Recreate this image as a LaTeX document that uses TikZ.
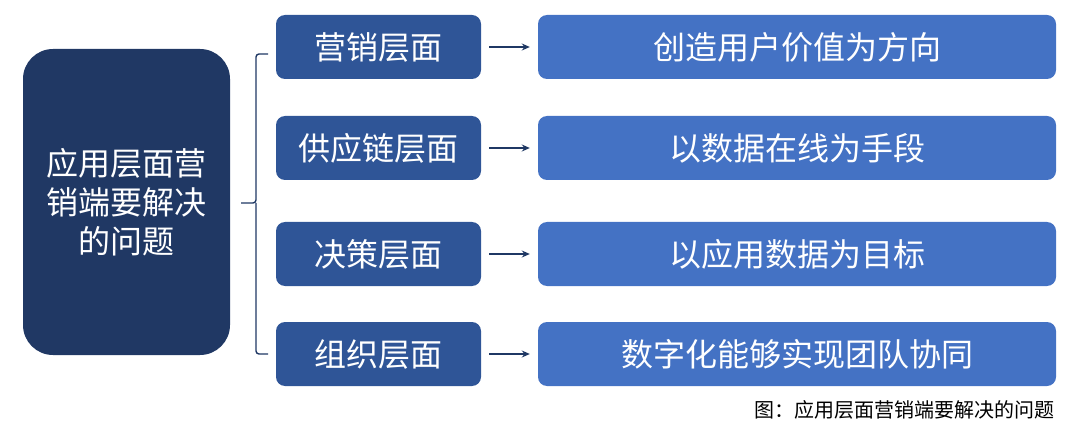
\documentclass[tikz,border=0pt]{standalone}
\usepackage{fontspec}
\setmainfont{Noto Sans CJK SC}
\usetikzlibrary{arrows.meta}
\definecolor{leftc}{HTML}{203864}
\definecolor{midc}{HTML}{2F5597}
\definecolor{rightc}{HTML}{4472C4}
\definecolor{arrc}{HTML}{1F3864}
\begin{document}
\begin{tikzpicture}[x=1pt,y=-1pt,
  leftbox/.style={fill=leftc,rounded corners=30pt,minimum width=207pt,minimum height=306pt,text=white,font=\fontsize{32}{39}\selectfont,align=center,inner sep=0pt},
  midbox/.style={fill=midc,rounded corners=9pt,minimum width=205pt,minimum height=64pt,text=white,font=\fontsize{32}{36}\selectfont,inner sep=0pt},
  rightbox/.style={fill=rightc,rounded corners=9pt,minimum width=518pt,minimum height=64pt,text=white,font=\fontsize{32}{36}\selectfont,inner sep=0pt},
  conn/.style={draw=arrc,line width=1.6pt,-{Stealth[length=8pt,width=7pt]}},
  brace/.style={draw=arrc,line width=1.4pt,rounded corners=3pt}
]
\useasboundingbox (0,0) rectangle (1080,425);
\node[leftbox] (L) at (126.5,202) {应用层面营\\销端要解决\\的问题};
\node[midbox] (m1) at (378.5,47) {营销层面};
\node[midbox] (m2) at (378.5,148) {供应链层面};
\node[midbox] (m3) at (378.5,254) {决策层面};
\node[midbox] (m4) at (378.5,354) {组织层面};
\node[rightbox] (r1) at (797,47) {创造用户价值为方向};
\node[rightbox] (r2) at (797,148) {以数据在线为手段};
\node[rightbox] (r3) at (797,254) {以应用数据为目标};
\node[rightbox] (r4) at (797,354) {数字化能够实现团队协同};
\foreach \i in {1,2,3,4}{
  \draw[conn] ([xshift=8pt]m\i.east) -- ([xshift=-8pt]r\i.west);
}
\coordinate (tip) at (241,203);
\coordinate (bt) at (268,54);
\coordinate (bb) at (268,354);
\draw[brace] (bt) -- (256,54) -- (256,203) -- (tip);
\draw[brace] (bb) -- (256,354) -- (256,203);
\node[anchor=east,font=\fontsize{20}{22}\selectfont,text=black,inner sep=0pt] (cap) at (1055,410) {图：应用层面营销端要解决的问题};
\end{tikzpicture}
\end{document}
